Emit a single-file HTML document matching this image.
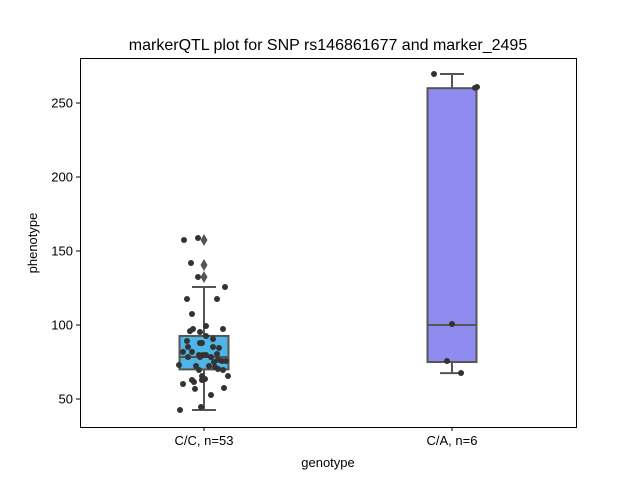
<!DOCTYPE html>
<html><head><meta charset="utf-8"><style>body{margin:0;background:#fff}svg{font-family:"Liberation Sans","DejaVu Sans",sans-serif}</style></head>
<body>
<svg id="chart" width="640" height="480">
<rect width="640" height="480" fill="#fff"/>
<text x="328" y="50" text-anchor="middle" font-size="16">markerQTL plot for SNP rs146861677 and marker_2495</text>
<g id="plot"></g>
<rect x="80.5" y="58.5" width="496" height="369" fill="none" stroke="#000" stroke-width="1"/>
<text x="328" y="467" text-anchor="middle" font-size="13">genotype</text>
<text transform="translate(37,243) rotate(-90)" text-anchor="middle" font-size="13">phenotype</text>
</svg>
<script>
const categories = ["C/C, n=53", "C/A, n=6"];
const yTicks = [50, 100, 150, 200, 250];
const boxQ1 = [70, 75];
const boxMedian = [78.4, 100];
const boxQ3 = [92.6, 260];
const whiskerLow = [42.6, 67.5];
const whiskerHigh = [125.7, 269.6];
const outliers0 = [157.4, 140.5, 132.4];
const boxColors = ["#4fb4e6", "#8f8cf0"];
const ccVals = [157.4,158.8,141.9,132.4,125.7,117.6,117.6,107.4,99.3,95.9,97.3,97.3,95.3,92.6,90.5,89.2,87.8,87.8,84.5,80.4,81.8,79.7,79.7,79.7,78.4,75,75.7,75.7,73,71.6,70.3,69.6,69.6,65.5,65.5,63.5,62.8,62.8,61.5,60.1,57.4,56.8,52.7,44.6,42.6,78.4,72.3,85.1,72.3,78.4,76.4,81.8,85.1];
const ccJit = [-20,-6,-13,-6,21,-17,13,-12,2,-14,-11,19,-4,2,9,-17,-4,-2,15,13,-21,-5,-1,2,7,10,18,22,-25,11,14,19,-5,-2,24,1,-2,-12,-10,-21,20,-9,7,-3,-24,-4,5,9,-8,-16,14,-12,-16];
const caVals = [269.6,260.8,260.2,100.7,75.7,67.6];
const caJit = [-18,25,23,0,-5,9];

const X0=80,W=496,Y0=58,H=369;
function yS(v){return 473-1.48*v;}
function xS(i){return X0+W*(i+0.5)/categories.length;}
const NS="http://www.w3.org/2000/svg";
const g=document.getElementById('plot');
function mk(t,a){const e=document.createElementNS(NS,t);for(const k in a)e.setAttribute(k,a[k]);g.appendChild(e);return e;}
yTicks.forEach(v=>{
  const y=yS(v);
  const tk=mk('line',{x1:X0-4,x2:X0,y1:y,y2:y,stroke:'#000'});
  
  
  const t=mk('text',{x:X0-7,y:y+4.5,'text-anchor':'end','font-size':13});
  t.textContent=v;
  
  
});
categories.forEach((c,i)=>{
  const x=xS(i);
  const tk=mk('line',{x1:x,x2:x,y1:Y0+H,y2:Y0+H+4,stroke:'#000'});
  
  
  const t=mk('text',{x:x,y:Y0+H+18,'text-anchor':'middle','font-size':13});
  t.textContent=c;
  
  
  const bw=49,gc='#555';
  const w1=mk('line',{x1:x,x2:x,y1:yS(whiskerHigh[i]),y2:yS(boxQ3[i]),stroke:gc,'stroke-width':2});
  
  
  const w2=mk('line',{x1:x,x2:x,y1:yS(boxQ1[i]),y2:yS(whiskerLow[i]),stroke:gc,'stroke-width':2});
  
  
  [whiskerHigh[i],whiskerLow[i]].forEach(v=>{
    const cap=mk('line',{x1:x-12,x2:x+12,y1:yS(v),y2:yS(v),stroke:gc,'stroke-width':2});
    
    
  });
  const b=mk('rect',{x:x-bw/2,y:yS(boxQ3[i]),width:bw,height:yS(boxQ1[i])-yS(boxQ3[i]),fill:boxColors[i],stroke:gc,'stroke-width':2});
  
  
  const m=mk('line',{x1:x-bw/2,x2:x+bw/2,y1:yS(boxMedian[i]),y2:yS(boxMedian[i]),stroke:gc,'stroke-width':2});
  
  
});
outliers0.forEach(v=>{
  const x=xS(0),y=yS(v);
  const d=mk('polygon',{points:`${x},${y-6} ${x+3.5},${y} ${x},${y+6} ${x-3.5},${y}`,fill:'#555'});
  
  
});
function pts(vals,jit,i){
  vals.forEach((v,k)=>{
    const c=mk('circle',{cx:xS(i)+jit[k],cy:yS(v),r:3,fill:'#333'});
    
    
  });
}
pts(ccVals,ccJit,0);
pts(caVals,caJit,1);
</script>
</body></html>
